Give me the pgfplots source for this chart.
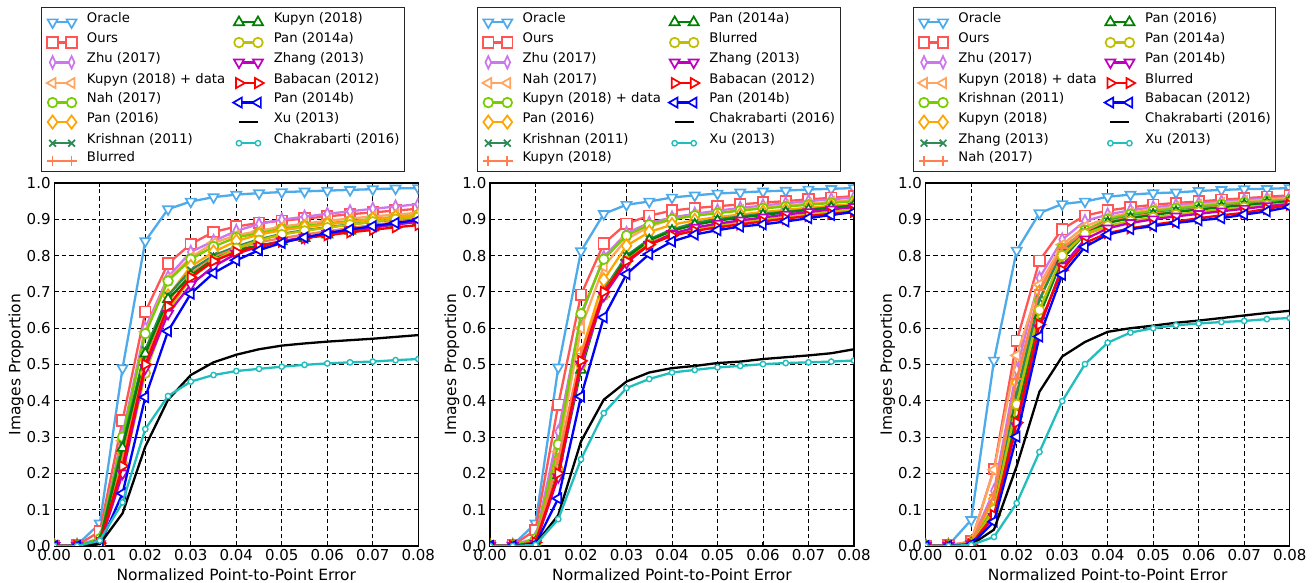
\documentclass[border=0pt]{standalone}
\usepackage{pgfplots}
\pgfplotsset{compat=1.18}
\usepackage{pgfplotstable}
\usepackage{fontspec}
\setmainfont{DejaVu Sans}

\definecolor{c1}{RGB}{77,170,235}
\definecolor{c2}{RGB}{255,85,85}
\definecolor{c3}{RGB}{204,119,238}
\definecolor{c4}{RGB}{255,165,95}
\definecolor{c5}{RGB}{119,204,0}
\definecolor{c6}{RGB}{255,165,0}
\definecolor{c7}{RGB}{46,139,87}
\definecolor{c8}{RGB}{255,127,80}
\definecolor{c9}{RGB}{0,128,0}
\definecolor{c10}{RGB}{191,191,0}
\definecolor{c11}{RGB}{191,0,191}
\definecolor{c12}{RGB}{255,0,0}
\definecolor{c13}{RGB}{0,0,255}
\definecolor{c14}{RGB}{0,0,0}
\definecolor{c15}{RGB}{34,190,190}

\pgfplotstableread{
x s1 s2 s3 s4 s5 s6 s7 s8 s9 s10 s11 s12 s13 s14 s15
0.000 0 0 0 0 0 0 0 0 0 0 0 0 0 0 0
0.005 0.003 0.002 0.003 0.001 0.001 0 0 0 0 0 0 0 0 0 0
0.010 0.062 0.040 0.020 0.015 0.020 0.008 0.015 0.010 0.012 0.005 0.005 0.008 0.003 0.005 0.015
0.015 0.490 0.346 0.308 0.290 0.300 0.228 0.280 0.250 0.270 0.200 0.200 0.220 0.145 0.090 0.120
0.020 0.840 0.645 0.600 0.590 0.585 0.515 0.540 0.520 0.530 0.476 0.490 0.500 0.410 0.274 0.322
0.025 0.928 0.778 0.741 0.735 0.730 0.689 0.690 0.675 0.680 0.649 0.640 0.660 0.592 0.403 0.413
0.030 0.949 0.832 0.810 0.795 0.790 0.770 0.760 0.750 0.745 0.738 0.720 0.740 0.695 0.471 0.453
0.035 0.961 0.865 0.840 0.835 0.825 0.810 0.800 0.795 0.790 0.785 0.770 0.785 0.752 0.506 0.471
0.040 0.968 0.880 0.868 0.856 0.850 0.840 0.825 0.820 0.815 0.820 0.805 0.810 0.787 0.527 0.482
0.045 0.972 0.890 0.887 0.868 0.862 0.858 0.845 0.837 0.828 0.842 0.825 0.825 0.815 0.542 0.488
0.050 0.975 0.896 0.899 0.880 0.874 0.870 0.860 0.848 0.839 0.858 0.840 0.838 0.835 0.552 0.494
0.055 0.977 0.902 0.907 0.888 0.882 0.878 0.870 0.858 0.848 0.868 0.850 0.848 0.850 0.558 0.499
0.060 0.979 0.908 0.915 0.896 0.889 0.886 0.878 0.867 0.858 0.877 0.860 0.856 0.862 0.563 0.503
0.065 0.981 0.914 0.922 0.902 0.895 0.893 0.886 0.876 0.868 0.885 0.870 0.864 0.872 0.567 0.506
0.070 0.983 0.919 0.929 0.908 0.901 0.900 0.893 0.884 0.877 0.893 0.878 0.871 0.881 0.571 0.508
0.075 0.985 0.924 0.935 0.913 0.906 0.906 0.899 0.892 0.886 0.900 0.886 0.878 0.890 0.576 0.512
0.080 0.986 0.929 0.942 0.918 0.912 0.912 0.905 0.899 0.894 0.906 0.893 0.884 0.898 0.581 0.515
}\tabA

\pgfplotstableread{
x s1 s2 s3 s4 s5 s6 s7 s8 s9 s10 s11 s12 s13 s14 s15
0.000 0 0 0 0 0 0 0 0 0 0 0 0 0 0 0
0.005 0.003 0.002 0.003 0.001 0.001 0 0 0 0 0 0 0 0 0 0
0.010 0.062 0.044 0.021 0.015 0.020 0.008 0.010 0.012 0.010 0.008 0.006 0.010 0.005 0.005 0.003
0.015 0.492 0.389 0.315 0.260 0.280 0.213 0.210 0.240 0.195 0.200 0.190 0.200 0.131 0.085 0.074
0.020 0.812 0.692 0.632 0.600 0.640 0.531 0.510 0.530 0.485 0.500 0.500 0.510 0.412 0.288 0.239
0.025 0.915 0.833 0.796 0.770 0.790 0.733 0.705 0.700 0.695 0.690 0.690 0.700 0.630 0.403 0.366
0.030 0.940 0.888 0.862 0.845 0.855 0.827 0.800 0.790 0.795 0.785 0.780 0.785 0.749 0.453 0.435
0.035 0.949 0.910 0.890 0.880 0.885 0.865 0.845 0.835 0.842 0.830 0.830 0.830 0.804 0.478 0.460
0.040 0.960 0.924 0.905 0.900 0.900 0.885 0.872 0.860 0.868 0.858 0.860 0.855 0.839 0.490 0.478
0.045 0.966 0.931 0.915 0.910 0.910 0.897 0.890 0.874 0.885 0.872 0.877 0.868 0.858 0.496 0.485
0.050 0.971 0.936 0.924 0.918 0.917 0.906 0.900 0.884 0.896 0.882 0.888 0.878 0.870 0.504 0.492
0.055 0.974 0.941 0.931 0.925 0.924 0.913 0.908 0.892 0.905 0.890 0.897 0.886 0.880 0.508 0.496
0.060 0.977 0.946 0.938 0.932 0.930 0.920 0.915 0.899 0.912 0.898 0.905 0.894 0.886 0.515 0.501
0.065 0.979 0.950 0.944 0.938 0.935 0.926 0.921 0.906 0.919 0.906 0.913 0.902 0.894 0.520 0.504
0.070 0.982 0.955 0.950 0.943 0.940 0.932 0.927 0.913 0.926 0.913 0.920 0.909 0.903 0.525 0.506
0.075 0.984 0.959 0.955 0.948 0.945 0.937 0.933 0.920 0.932 0.920 0.927 0.915 0.912 0.531 0.508
0.080 0.986 0.964 0.960 0.953 0.950 0.942 0.938 0.926 0.938 0.927 0.934 0.921 0.920 0.542 0.511
}\tabB

\pgfplotstableread{
x s1 s2 s3 s4 s5 s6 s7 s8 s9 s10 s11 s12 s13 s14 s15
0.000 0 0 0 0 0 0 0 0 0 0 0 0 0 0 0
0.005 0.002 0.002 0.003 0.001 0 0 0 0 0 0 0 0 0 0 0
0.010 0.072 0.012 0.010 0.012 0.008 0.010 0.008 0.010 0.006 0.006 0.005 0.005 0.004 0.003 0.003
0.015 0.511 0.212 0.152 0.210 0.110 0.130 0.100 0.140 0.090 0.100 0.080 0.085 0.067 0.045 0.025
0.020 0.814 0.565 0.485 0.525 0.404 0.450 0.420 0.460 0.365 0.390 0.330 0.340 0.301 0.220 0.118
0.025 0.917 0.786 0.738 0.720 0.676 0.700 0.680 0.705 0.635 0.650 0.600 0.610 0.577 0.425 0.259
0.030 0.942 0.873 0.844 0.830 0.820 0.815 0.810 0.820 0.790 0.800 0.770 0.760 0.747 0.522 0.399
0.035 0.949 0.910 0.895 0.880 0.870 0.858 0.865 0.868 0.860 0.860 0.845 0.835 0.824 0.562 0.501
0.040 0.962 0.924 0.913 0.905 0.900 0.879 0.895 0.893 0.890 0.882 0.875 0.862 0.858 0.590 0.560
0.045 0.968 0.933 0.925 0.918 0.914 0.890 0.908 0.906 0.903 0.895 0.890 0.875 0.873 0.600 0.588
0.050 0.972 0.940 0.933 0.927 0.923 0.901 0.917 0.915 0.912 0.905 0.900 0.885 0.881 0.607 0.600
0.055 0.974 0.945 0.939 0.934 0.930 0.911 0.924 0.922 0.920 0.913 0.908 0.894 0.890 0.615 0.608
0.060 0.978 0.949 0.944 0.940 0.936 0.917 0.930 0.929 0.927 0.920 0.915 0.903 0.897 0.621 0.613
0.065 0.981 0.954 0.949 0.945 0.941 0.925 0.936 0.935 0.933 0.927 0.922 0.911 0.903 0.628 0.617
0.070 0.983 0.958 0.953 0.950 0.946 0.931 0.941 0.940 0.939 0.933 0.929 0.918 0.913 0.635 0.620
0.075 0.984 0.962 0.957 0.954 0.950 0.938 0.946 0.945 0.944 0.939 0.936 0.929 0.922 0.642 0.625
0.080 0.986 0.966 0.961 0.958 0.954 0.945 0.951 0.950 0.949 0.944 0.942 0.940 0.934 0.648 0.628
}\tabC

\pgfplotsset{
  mk/.style={mark options={solid, fill=white, line width=1.7pt, #1}},
  st1/.style={c1, mark=triangle*, mark size=5.8pt, mk={rotate=180}},
  st2/.style={c2, mark=square*, mark size=5.3pt, mk={}},
  st3/.style={c3, mark=diamond*, mark size=6.2pt, mk={xscale=0.62}},
  st4/.style={c4, mark=triangle*, mark size=5.8pt, mk={rotate=90}},
  st5/.style={c5, mark=*, mark size=4.8pt, mk={}},
  st6/.style={c6, mark=diamond*, mark size=6.6pt, mk={}},
  st7/.style={c7, mark=x, mark size=4.8pt, mk={}},
  st8/.style={c8, mark=+, mark size=5.4pt, mk={}},
  st9/.style={c9, mark=triangle*, mark size=5.8pt, mk={}},
  st10/.style={c10, mark=*, mark size=4.8pt, mk={}},
  st11/.style={c11, mark=triangle*, mark size=5.8pt, mk={rotate=180}},
  st12/.style={c12, mark=triangle*, mark size=5.8pt, mk={rotate=-90}},
  st13/.style={c13, mark=triangle*, mark size=5.8pt, mk={rotate=90}},
  st14/.style={c14, no markers},
  st15/.style={c15, mark=*, mark size=2.7pt, mk={line width=1.4pt}},
  panel/.style={
    width=364pt, height=363pt, scale only axis,
    xmin=0, xmax=0.08, ymin=0, ymax=1,
    xtick={0,0.01,0.02,0.03,0.04,0.05,0.06,0.07,0.08},
    ytick={0,0.1,0.2,0.3,0.4,0.5,0.6,0.7,0.8,0.9,1},
    scaled x ticks=false, scaled y ticks=false,
    xticklabel={\pgfmathprintnumber[fixed,fixed zerofill,precision=2,assume math mode=true]{\tick}},
    yticklabel={\pgfmathprintnumber[fixed,fixed zerofill,precision=1,assume math mode=true]{\tick}},
    /pgf/number format/assume math mode=true,
    tick label style={font=\fontsize{15}{18}\selectfont, black},
    xticklabel style={inner ysep=3.5pt},
    yticklabel style={inner xsep=3.5pt},
    xlabel={Normalized Point-to-Point Error},
    ylabel={Images Proportion},
    every axis x label/.style={at={(axis description cs:0.5,-0.08)}, anchor=center, font=\fontsize{15.5}{18}\selectfont},
    every axis y label/.style={at={(axis description cs:-0.105,0.5)}, rotate=90, anchor=center, font=\fontsize{15.5}{18}\selectfont},
    axis line style={black, line width=1.2pt},
    tick align=inside, major tick length=4pt,
    tick style={black, line width=1pt},
    grid=major,
    grid style={black, line width=0.9pt, dash pattern=on 4.5pt off 3pt},
    clip marker paths=true,
    every axis plot/.append style={line width=2.3pt},
    legend image code/.code={\draw[##1] plot coordinates {(0pt,0pt) (19pt,0pt)};},
    transpose legend, legend columns=8,
    legend cell align=left,
    legend style={
      at={(axis description cs:0,1)}, anchor=south west, xshift=-13pt, yshift=11pt,
      draw=black!85, line width=1pt, fill=white,
      font=\fontsize{13.2}{15}\selectfont,
      inner xsep=5pt, inner ysep=5pt, row sep=4.5pt,
      nodes={inner xsep=0pt, inner ysep=0pt, text height=10pt, text depth=3pt, anchor=base west},
      /tikz/every odd column/.append style={column sep=10pt},
      /tikz/every even column/.append style={column sep=8pt},
    },
  },
}

\newcommand{\plotall}[1]{%
  \addplot[st1] table[x=x,y=s1]{#1};
  \addplot[st2] table[x=x,y=s2]{#1};
  \addplot[st3] table[x=x,y=s3]{#1};
  \addplot[st4] table[x=x,y=s4]{#1};
  \addplot[st5] table[x=x,y=s5]{#1};
  \addplot[st6] table[x=x,y=s6]{#1};
  \addplot[st7] table[x=x,y=s7]{#1};
  \addplot[st8] table[x=x,y=s8]{#1};
  \addplot[st9] table[x=x,y=s9]{#1};
  \addplot[st10] table[x=x,y=s10]{#1};
  \addplot[st11] table[x=x,y=s11]{#1};
  \addplot[st12] table[x=x,y=s12]{#1};
  \addplot[st13] table[x=x,y=s13]{#1};
  \addplot[st14] table[x=x,y=s14]{#1};
  \addplot[st15] table[x=x,y=s15]{#1};
}

\begin{document}
\begin{tikzpicture}
\useasboundingbox (0pt,0pt) rectangle (1315pt,583pt);

\begin{axis}[panel, at={(54.3pt,37pt)}, anchor=south west]
\plotall{\tabA}
\legend{Oracle, Ours, Zhu (2017), Kupyn (2018) + data, Nah (2017), Pan (2016), Krishnan (2011), Blurred, Kupyn (2018), Pan (2014a), Zhang (2013), Babacan (2012), Pan (2014b), Xu (2013), Chakrabarti (2016)}
\end{axis}

\begin{axis}[panel, at={(490pt,37pt)}, anchor=south west]
\plotall{\tabB}
\legend{Oracle, Ours, Zhu (2017), Nah (2017), Kupyn (2018) + data, Pan (2016), Krishnan (2011), Kupyn (2018), Pan (2014a), Blurred, Zhang (2013), Babacan (2012), Pan (2014b), Chakrabarti (2016), Xu (2013)}
\end{axis}

\begin{axis}[panel, at={(925.7pt,37pt)}, anchor=south west]
\plotall{\tabC}
\legend{Oracle, Ours, Zhu (2017), Kupyn (2018) + data, Krishnan (2011), Kupyn (2018), Zhang (2013), Nah (2017), Pan (2016), Pan (2014a), Pan (2014b), Blurred, Babacan (2012), Chakrabarti (2016), Xu (2013)}
\end{axis}
\end{tikzpicture}
\end{document}
